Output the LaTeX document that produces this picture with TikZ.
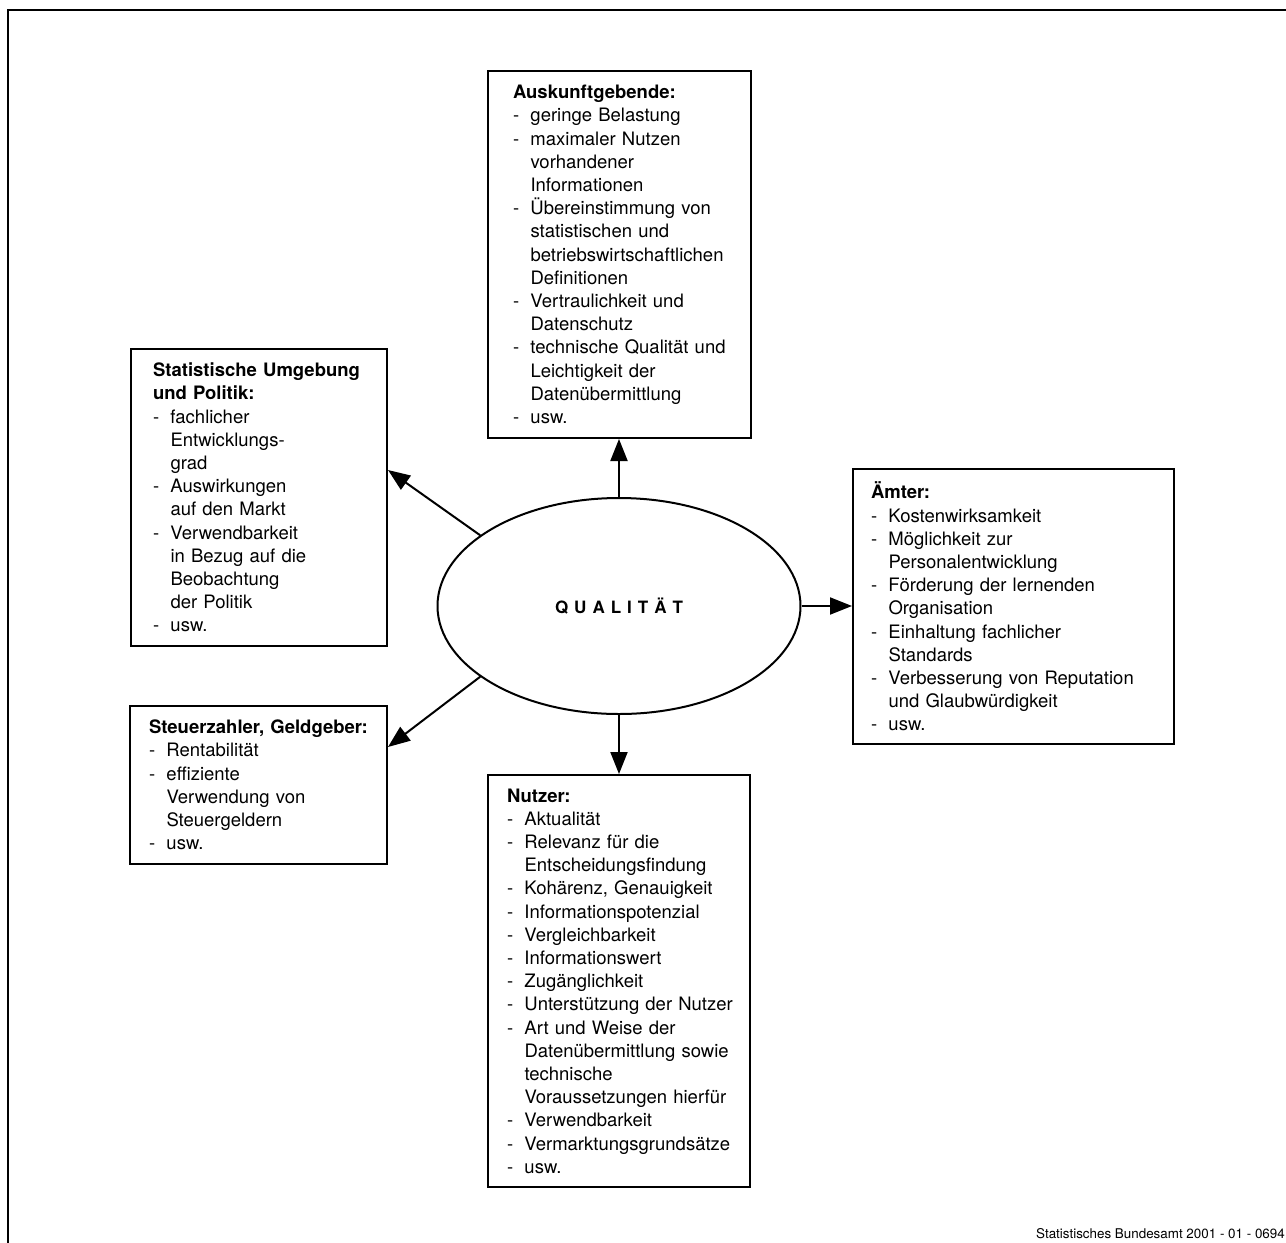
\documentclass[tikz,border=0pt]{standalone}
\usepackage{fontspec}
\setmainfont{TeX Gyre Heros}
\usetikzlibrary{arrows.meta,shapes.geometric,calc}

\newcommand\hd[1]{\mbox{\textbf{#1}}\par}
\newcommand\dl[1]{\mbox{\makebox[17.5pt][l]{-}#1}\par}
\newcommand\cl[1]{\mbox{\hspace*{17.5pt}#1}\par}

\begin{document}
\begin{tikzpicture}[x=1pt,y=-1pt,
  every node/.style={font=\fontsize{18.5pt}{23.2pt}\selectfont},
  box/.style={draw, line width=2pt, anchor=north west, align=left, inner ysep=0pt},
  arr/.style={line width=2pt, -{Triangle[length=22pt,width=17pt]}}]

\useasboundingbox (0,0) rectangle (1286,1243);

% outer frame (only top and left edges visible)
\draw[line width=2.2pt] (8,1250) -- (8,10) -- (1295,10);

% centre
\node[ellipse, draw, line width=2pt, minimum width=363pt, minimum height=216pt, inner sep=0pt,
      font=\fontsize{17pt}{20pt}\selectfont\bfseries] (q) at (619,606)
  {Q\hspace{6pt}U\hspace{6pt}A\hspace{6pt}L\hspace{6pt}I\hspace{6pt}T\hspace{6pt}Ä\hspace{6pt}T};

% boxes
\node[box, inner xsep=25pt, text width=213pt, minimum width=263pt, minimum height=367pt] (top) at (487,70) {%
\hd{Auskunftgebende:}
\dl{geringe Belastung}
\dl{maximaler Nutzen}
\cl{vorhandener}
\cl{Informationen}
\dl{Übereinstimmung von}
\cl{statistischen und}
\cl{betriebswirtschaftlichen}
\cl{Definitionen}
\dl{Vertraulichkeit und}
\cl{Datenschutz}
\dl{technische Qualität und}
\cl{Leichtigkeit der}
\cl{Datenübermittlung}
\dl{usw.}};

\node[box, inner xsep=22pt, text width=212pt, minimum width=256pt, minimum height=297pt] (stat) at (130,348) {%
\hd{Statistische Umgebung}
\hd{und Politik:}
\dl{fachlicher}
\cl{Entwicklungs-}
\cl{grad}
\dl{Auswirkungen}
\cl{auf den Markt}
\dl{Verwendbarkeit}
\cl{in Bezug auf die}
\cl{Beobachtung}
\cl{der Politik}
\dl{usw.}};

\node[box, inner xsep=19pt, text width=219pt, minimum width=257pt, minimum height=158pt] (steu) at (129,705) {%
\hd{Steuerzahler, Geldgeber:}
\dl{Rentabilität}
\dl{effiziente}
\cl{Verwendung von}
\cl{Steuergeldern}
\dl{usw.}};

\node[box, inner xsep=18pt, text width=285pt, minimum width=321pt, minimum height=275pt] (amt) at (852,468) {%
\hd{Ämter:}
\dl{Kostenwirksamkeit}
\dl{Möglichkeit zur}
\cl{Personalentwicklung}
\dl{Förderung der lernenden}
\cl{Organisation}
\dl{Einhaltung fachlicher}
\cl{Standards}
\dl{Verbesserung von Reputation}
\cl{und Glaubwürdigkeit}
\dl{usw.}};

\node[box, inner xsep=19pt, text width=224pt, minimum width=262pt, minimum height=412pt] (nutz) at (487,774) {%
\hd{Nutzer:}
\dl{Aktualität}
\dl{Relevanz für die}
\cl{Entscheidungsfindung}
\dl{Kohärenz, Genauigkeit}
\dl{Informationspotenzial}
\dl{Vergleichbarkeit}
\dl{Informationswert}
\dl{Zugänglichkeit}
\dl{Unterstützung der Nutzer}
\dl{Art und Weise der}
\cl{Datenübermittlung sowie}
\cl{technische}
\cl{Voraussetzungen hierfür}
\dl{Verwendbarkeit}
\dl{Vermarktungsgrundsätze}
\dl{usw.}};

% connectors
\draw[arr] (q.north) -- (q.north |- top.south);
\draw[arr] (q.south) -- (q.south |- nutz.north);
\draw[arr] (q.east) -- (q.east -| amt.west);
\draw[arr] (q.153.6) -- ([yshift=27.5pt]stat.east);
\draw[arr] (q.207.4) -- ([yshift=38pt]steu.east);

% footer
\node[anchor=base east, inner sep=0pt, font=\fontsize{13.4pt}{16pt}\selectfont] (foot) at (1285,1238)
  {Statistisches Bundesamt 2001 - 01 - 0694};
\end{tikzpicture}
\end{document}
